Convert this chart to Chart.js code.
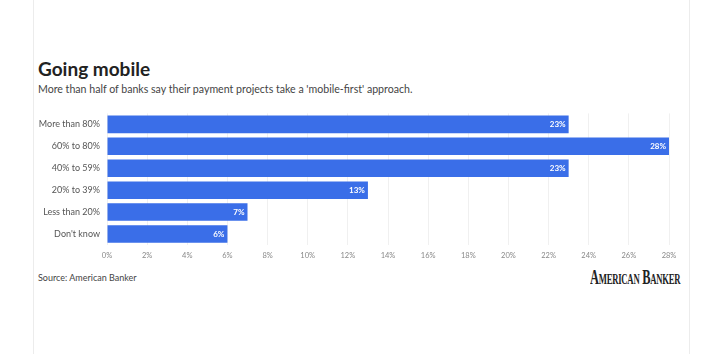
<!DOCTYPE html>
<html>
<head>
<meta charset="utf-8">
<script src="https://cdn.jsdelivr.net/npm/chart.js@4"></script>
<style>
  html, body { margin: 0; padding: 0; background: #fff; }
  body { width: 720px; height: 354px; position: relative; overflow: hidden; font-family: Lato, sans-serif; }
  .card { position: absolute; left: 33px; top: -2px; width: 657px; height: 360px; border: 1px solid #ececec; box-sizing: border-box; }
  .title { position: absolute; left: 38px; top: 57px; font-size: 19px; font-weight: bold; color: #222; }
  .subtitle { position: absolute; left: 38px; top: 83px; font-size: 10.6px; color: #444; }
  .chart { position: absolute; left: 34px; top: 101px; width: 655px; height: 165px; }
  .source { position: absolute; left: 38px; top: 272px; font-size: 9px; color: #444; }
  .logo { position: absolute; left: 590px; top: 266px; font-family: "Liberation Serif", serif; font-weight: bold; font-size: 20px; color: #222;
          font-variant: small-caps; transform: scaleX(0.62); transform-origin: left top; letter-spacing: -0.4px; white-space: nowrap; }
</style>
</head>
<body>
<div class="card"></div>
<div class="title">Going mobile</div>
<div class="subtitle">More than half of banks say their payment projects take a 'mobile-first' approach.</div>
<div class="chart"><canvas id="bankChart"></canvas></div>
<div class="source">Source: American Banker</div>
<div class="logo">American Banker</div>
<script>
// Data
const categories = ['More than 80%', '60% to 80%', '40% to 59%', '20% to 39%', 'Less than 20%', "Don't know"];
const shares = [23, 28, 23, 13, 7, 6];
const tickValues = [0, 2, 4, 6, 8, 10, 12, 14, 16, 18, 20, 22, 24, 26, 28];

// Value labels drawn inside the bar ends
const barLabels = {
    id: 'barLabels',
    afterDatasetsDraw(chart) {
        const ctx = chart.ctx;
        const meta = chart.getDatasetMeta(0);
        ctx.save();
        ctx.font = 'bold 8px Lato, sans-serif';
        ctx.fillStyle = '#fff';
        ctx.textAlign = 'right';
        ctx.textBaseline = 'middle';
        meta.data.forEach((bar, i) => {
            ctx.fillText(shares[i] + '%', bar.x - 3, bar.y);
        });
        ctx.restore();
    }
};

const ctxBank = document.getElementById('bankChart').getContext('2d');
new Chart(ctxBank, {
    type: 'bar',
    data: {
        labels: categories,
        datasets: [{
            data: shares,
            backgroundColor: '#3a6ee8',
            borderWidth: 0,
            categoryPercentage: 1,
            barPercentage: 0.8
        }]
    },
    options: {
        indexAxis: 'y',
        responsive: true,
        maintainAspectRatio: false,
        animation: false,
        layout: { padding: { top: 0, right: 20, left: 0, bottom: 0 } },
        plugins: {
            legend: { display: false },
            tooltip: { enabled: false }
        },
        scales: {
            x: {
                min: 0, max: 28,
                afterBuildTicks: (axis) => { axis.ticks = tickValues.map(v => ({ value: v })); },
                grid: { color: '#f0f0f0', drawTicks: false },
                border: { display: false },
                ticks: {
                    padding: 6,
                    font: { size: 7.5, family: 'Lato, sans-serif' }, color: '#888',
                    callback: (v) => v + '%'
                }
            },
            y: {
                grid: { display: false, drawTicks: false },
                border: { display: false },
                afterFit: (axis) => { axis.width = 73; },
                ticks: {
                    padding: 7,
                    font: { size: 9, family: 'Lato, sans-serif' }, color: '#555'
                }
            }
        }
    },
    plugins: [barLabels]
});
</script>
</body>
</html>
